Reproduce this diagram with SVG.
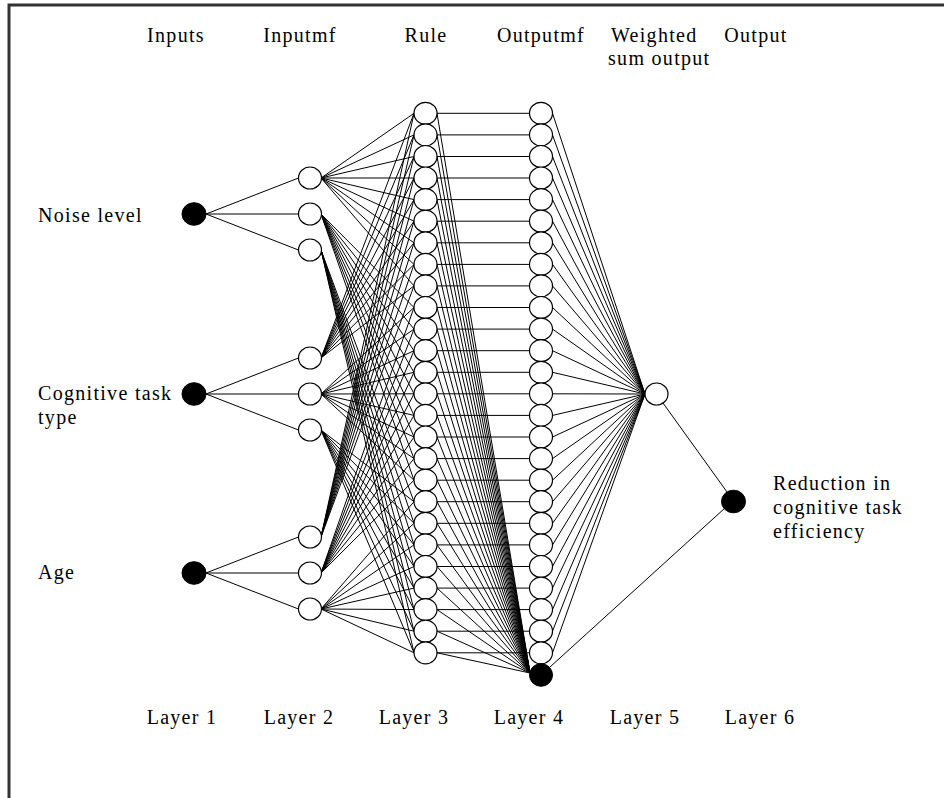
<svg xmlns="http://www.w3.org/2000/svg" width="944" height="798" viewBox="0 0 944 798">
<style>
.t{font-family:"Liberation Serif","Times New Roman",serif;font-size:20px;letter-spacing:1.3px;fill:#000}
.m{text-anchor:middle}
.c{fill:none;stroke:#000;stroke-width:1}
.w{fill:#fff;stroke:#000;stroke-width:1.2}
.b{fill:#000;stroke:#000;stroke-width:1}
.frame{fill:none;stroke:#333;stroke-width:3}
</style>
<rect x="0" y="0" width="944" height="798" fill="#fff"/>
<path class="frame" d="M9 798V5H944"/>
<g id="connectors" class="c">
<path d="M206 214L298.5 178M206 214L298.5 214M206 214L298.5 250M206 394L298.5 358M206 394L298.5 394M206 394L298.5 430M206 573L298.5 537M206 573L298.5 573M206 573L298.5 609"/>
<path d="M321 178L414 113.3M321 178L414 134.9M321 178L414 156.5M321 178L414 178M321 178L414 199.6M321 178L414 221.2M321 178L414 242.8M321 178L414 264.4M321 178L414 285.9"/>
<path d="M321 214L414 307.5M321 214L414 329.1M321 214L414 350.7M321 214L414 372.3M321 214L414 393.8M321 214L414 415.4M321 214L414 437M321 214L414 458.6M321 214L414 480.2"/>
<path d="M321 250L414 501.7M321 250L414 523.3M321 250L414 544.9M321 250L414 566.5M321 250L414 588.1M321 250L414 609.6M321 250L414 631.2M321 250L414 652.8"/>
<path d="M321 358L414 113.3M321 358L414 134.9M321 358L414 156.5M321 358L414 178M321 358L414 199.6M321 358L414 221.2M321 358L414 242.8M321 358L414 264.4M321 358L414 285.9"/>
<path d="M321 394L414 307.5M321 394L414 329.1M321 394L414 350.7M321 394L414 372.3M321 394L414 393.8M321 394L414 415.4M321 394L414 437M321 394L414 458.6M321 394L414 480.2"/>
<path d="M321 430L414 501.7M321 430L414 523.3M321 430L414 544.9M321 430L414 566.5M321 430L414 588.1M321 430L414 609.6M321 430L414 631.2M321 430L414 652.8"/>
<path d="M321 537L414 113.3M321 537L414 134.9M321 537L414 156.5M321 537L414 178M321 537L414 199.6M321 537L414 221.2M321 537L414 242.8M321 537L414 264.4M321 537L414 285.9"/>
<path d="M321 573L414 307.5M321 573L414 329.1M321 573L414 350.7M321 573L414 372.3M321 573L414 393.8M321 573L414 415.4M321 573L414 437M321 573L414 458.6M321 573L414 480.2"/>
<path d="M321 609L414 501.7M321 609L414 523.3M321 609L414 544.9M321 609L414 566.5M321 609L414 588.1M321 609L414 609.6M321 609L414 631.2M321 609L414 652.8"/>
<path d="M437 113.3H529.5M437 134.9H529.5M437 156.5H529.5M437 178H529.5M437 199.6H529.5M437 221.2H529.5M437 242.8H529.5M437 264.4H529.5M437 285.9H529.5M437 307.5H529.5M437 329.1H529.5M437 350.7H529.5M437 372.3H529.5M437 393.8H529.5M437 415.4H529.5M437 437H529.5M437 458.6H529.5M437 480.2H529.5M437 501.7H529.5M437 523.3H529.5M437 544.9H529.5M437 566.5H529.5M437 588.1H529.5M437 609.6H529.5M437 631.2H529.5M437 652.8H529.5"/>
<path d="M437 113.3L530 673M437 134.9L530 673M437 156.5L530 673M437 178L530 673M437 199.6L530 673M437 221.2L530 673M437 242.8L530 673M437 264.4L530 673M437 285.9L530 673M437 307.5L530 673M437 329.1L530 673M437 350.7L530 673M437 372.3L530 673M437 393.8L530 673M437 415.4L530 673M437 437L530 673M437 458.6L530 673M437 480.2L530 673M437 501.7L530 673M437 523.3L530 673M437 544.9L530 673M437 566.5L530 673M437 588.1L530 673M437 609.6L530 673M437 631.2L530 673M437 652.8L530 673"/>
<path d="M552.5 113.3L645 394M552.5 134.9L645 394M552.5 156.5L645 394M552.5 178L645 394M552.5 199.6L645 394M552.5 221.2L645 394M552.5 242.8L645 394M552.5 264.4L645 394M552.5 285.9L645 394M552.5 307.5L645 394M552.5 329.1L645 394M552.5 350.7L645 394M552.5 372.3L645 394M552.5 393.8L645 394M552.5 415.4L645 394M552.5 437L645 394M552.5 458.6L645 394M552.5 480.2L645 394M552.5 501.7L645 394M552.5 523.3L645 394M552.5 544.9L645 394M552.5 566.5L645 394M552.5 588.1L645 394M552.5 609.6L645 394M552.5 631.2L645 394M552.5 652.8L645 394"/>
<path d="M663 403L727 492M550 667L725 508"/>
</g>
<g id="in-noise"><ellipse class="b" cx="194" cy="214" rx="12" ry="11.3"/></g>
<g id="in-task"><ellipse class="b" cx="194" cy="394" rx="12" ry="11.3"/></g>
<g id="in-age"><ellipse class="b" cx="194" cy="573" rx="12" ry="11.3"/></g>
<g id="mf1-1"><ellipse class="w" cx="310" cy="178" rx="11.5" ry="11"/></g>
<g id="mf1-2"><ellipse class="w" cx="310" cy="214" rx="11.5" ry="11"/></g>
<g id="mf1-3"><ellipse class="w" cx="310" cy="250" rx="11.5" ry="11"/></g>
<g id="mf2-1"><ellipse class="w" cx="310" cy="358" rx="11.5" ry="11"/></g>
<g id="mf2-2"><ellipse class="w" cx="310" cy="394" rx="11.5" ry="11"/></g>
<g id="mf2-3"><ellipse class="w" cx="310" cy="430" rx="11.5" ry="11"/></g>
<g id="mf3-1"><ellipse class="w" cx="310" cy="537" rx="11.5" ry="11"/></g>
<g id="mf3-2"><ellipse class="w" cx="310" cy="573" rx="11.5" ry="11"/></g>
<g id="mf3-3"><ellipse class="w" cx="310" cy="609" rx="11.5" ry="11"/></g>
<g id="rule-1"><ellipse class="w" cx="425.5" cy="113.3" rx="11.5" ry="11"/></g>
<g id="rule-2"><ellipse class="w" cx="425.5" cy="134.9" rx="11.5" ry="11"/></g>
<g id="rule-3"><ellipse class="w" cx="425.5" cy="156.5" rx="11.5" ry="11"/></g>
<g id="rule-4"><ellipse class="w" cx="425.5" cy="178" rx="11.5" ry="11"/></g>
<g id="rule-5"><ellipse class="w" cx="425.5" cy="199.6" rx="11.5" ry="11"/></g>
<g id="rule-6"><ellipse class="w" cx="425.5" cy="221.2" rx="11.5" ry="11"/></g>
<g id="rule-7"><ellipse class="w" cx="425.5" cy="242.8" rx="11.5" ry="11"/></g>
<g id="rule-8"><ellipse class="w" cx="425.5" cy="264.4" rx="11.5" ry="11"/></g>
<g id="rule-9"><ellipse class="w" cx="425.5" cy="285.9" rx="11.5" ry="11"/></g>
<g id="rule-10"><ellipse class="w" cx="425.5" cy="307.5" rx="11.5" ry="11"/></g>
<g id="rule-11"><ellipse class="w" cx="425.5" cy="329.1" rx="11.5" ry="11"/></g>
<g id="rule-12"><ellipse class="w" cx="425.5" cy="350.7" rx="11.5" ry="11"/></g>
<g id="rule-13"><ellipse class="w" cx="425.5" cy="372.3" rx="11.5" ry="11"/></g>
<g id="rule-14"><ellipse class="w" cx="425.5" cy="393.8" rx="11.5" ry="11"/></g>
<g id="rule-15"><ellipse class="w" cx="425.5" cy="415.4" rx="11.5" ry="11"/></g>
<g id="rule-16"><ellipse class="w" cx="425.5" cy="437" rx="11.5" ry="11"/></g>
<g id="rule-17"><ellipse class="w" cx="425.5" cy="458.6" rx="11.5" ry="11"/></g>
<g id="rule-18"><ellipse class="w" cx="425.5" cy="480.2" rx="11.5" ry="11"/></g>
<g id="rule-19"><ellipse class="w" cx="425.5" cy="501.7" rx="11.5" ry="11"/></g>
<g id="rule-20"><ellipse class="w" cx="425.5" cy="523.3" rx="11.5" ry="11"/></g>
<g id="rule-21"><ellipse class="w" cx="425.5" cy="544.9" rx="11.5" ry="11"/></g>
<g id="rule-22"><ellipse class="w" cx="425.5" cy="566.5" rx="11.5" ry="11"/></g>
<g id="rule-23"><ellipse class="w" cx="425.5" cy="588.1" rx="11.5" ry="11"/></g>
<g id="rule-24"><ellipse class="w" cx="425.5" cy="609.6" rx="11.5" ry="11"/></g>
<g id="rule-25"><ellipse class="w" cx="425.5" cy="631.2" rx="11.5" ry="11"/></g>
<g id="rule-26"><ellipse class="w" cx="425.5" cy="652.8" rx="11.5" ry="11"/></g>
<g id="omf-1"><ellipse class="w" cx="541" cy="113.3" rx="11.5" ry="11"/></g>
<g id="omf-2"><ellipse class="w" cx="541" cy="134.9" rx="11.5" ry="11"/></g>
<g id="omf-3"><ellipse class="w" cx="541" cy="156.5" rx="11.5" ry="11"/></g>
<g id="omf-4"><ellipse class="w" cx="541" cy="178" rx="11.5" ry="11"/></g>
<g id="omf-5"><ellipse class="w" cx="541" cy="199.6" rx="11.5" ry="11"/></g>
<g id="omf-6"><ellipse class="w" cx="541" cy="221.2" rx="11.5" ry="11"/></g>
<g id="omf-7"><ellipse class="w" cx="541" cy="242.8" rx="11.5" ry="11"/></g>
<g id="omf-8"><ellipse class="w" cx="541" cy="264.4" rx="11.5" ry="11"/></g>
<g id="omf-9"><ellipse class="w" cx="541" cy="285.9" rx="11.5" ry="11"/></g>
<g id="omf-10"><ellipse class="w" cx="541" cy="307.5" rx="11.5" ry="11"/></g>
<g id="omf-11"><ellipse class="w" cx="541" cy="329.1" rx="11.5" ry="11"/></g>
<g id="omf-12"><ellipse class="w" cx="541" cy="350.7" rx="11.5" ry="11"/></g>
<g id="omf-13"><ellipse class="w" cx="541" cy="372.3" rx="11.5" ry="11"/></g>
<g id="omf-14"><ellipse class="w" cx="541" cy="393.8" rx="11.5" ry="11"/></g>
<g id="omf-15"><ellipse class="w" cx="541" cy="415.4" rx="11.5" ry="11"/></g>
<g id="omf-16"><ellipse class="w" cx="541" cy="437" rx="11.5" ry="11"/></g>
<g id="omf-17"><ellipse class="w" cx="541" cy="458.6" rx="11.5" ry="11"/></g>
<g id="omf-18"><ellipse class="w" cx="541" cy="480.2" rx="11.5" ry="11"/></g>
<g id="omf-19"><ellipse class="w" cx="541" cy="501.7" rx="11.5" ry="11"/></g>
<g id="omf-20"><ellipse class="w" cx="541" cy="523.3" rx="11.5" ry="11"/></g>
<g id="omf-21"><ellipse class="w" cx="541" cy="544.9" rx="11.5" ry="11"/></g>
<g id="omf-22"><ellipse class="w" cx="541" cy="566.5" rx="11.5" ry="11"/></g>
<g id="omf-23"><ellipse class="w" cx="541" cy="588.1" rx="11.5" ry="11"/></g>
<g id="omf-24"><ellipse class="w" cx="541" cy="609.6" rx="11.5" ry="11"/></g>
<g id="omf-25"><ellipse class="w" cx="541" cy="631.2" rx="11.5" ry="11"/></g>
<g id="omf-26"><ellipse class="w" cx="541" cy="652.8" rx="11.5" ry="11"/></g>
<g id="layer4-sum"><ellipse class="b" cx="541" cy="675" rx="11.5" ry="11.3"/></g>
<g id="weighted-sum"><ellipse class="w" cx="656.5" cy="394" rx="11.5" ry="11"/></g>
<g id="output"><ellipse class="b" cx="733.5" cy="501.5" rx="12" ry="11.3"/></g>
<g id="labels">
<text class="t m" x="176" y="42">Inputs</text>
<text class="t m" x="300" y="42">Inputmf</text>
<text class="t m" x="426" y="42">Rule</text>
<text class="t m" x="541" y="42">Outputmf</text>
<text class="t" x="611" y="42">Weighted</text>
<text class="t" x="608" y="65">sum output</text>
<text class="t m" x="756" y="42">Output</text>
<text class="t" x="38" y="221.5">Noise level</text>
<text class="t" x="38" y="400">Cognitive task</text>
<text class="t" x="38" y="423.5">type</text>
<text class="t" x="38" y="578.5">Age</text>
<text class="t" x="773" y="490">Reduction in</text>
<text class="t" x="773" y="514">cognitive task</text>
<text class="t" x="773" y="538">efficiency</text>
<text class="t m" x="182" y="724">Layer 1</text>
<text class="t m" x="299" y="724">Layer 2</text>
<text class="t m" x="414" y="724">Layer 3</text>
<text class="t m" x="529" y="724">Layer 4</text>
<text class="t m" x="645" y="724">Layer 5</text>
<text class="t m" x="760" y="724">Layer 6</text>
</g>
</svg>
